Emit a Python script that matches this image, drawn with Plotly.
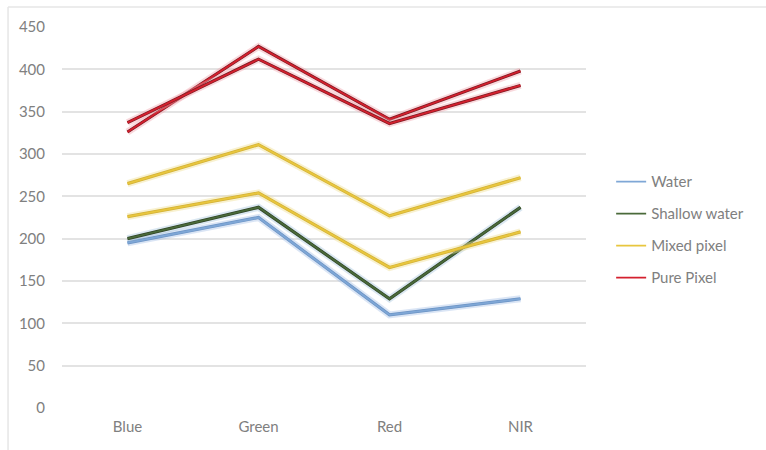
import plotly.graph_objects as go

bands = ["Blue", "Green", "Red", "NIR"]
water = [195, 225, 110, 129]
shallow_water = [200, 237, 129, 237]
mixed_pixel_a = [265, 311, 227, 272]
mixed_pixel_b = [226, 254, 166, 208]
pure_pixel_a = [326, 427, 341, 398]
pure_pixel_b = [337, 412, 336, 381]
y_ticks = [0, 50, 100, 150, 200, 250, 300, 350, 400, 450]

series = [
    ("Water", water, "#7FA7D6", "#6B93C4", "rgba(150,180,225,0.35)", True),
    ("Shallow water", shallow_water, "#4A6A3A", "#2F4326", "rgba(150,185,215,0.35)", True),
    ("Mixed pixel", mixed_pixel_a, "#E8C63E", "#D2B035", "rgba(240,225,150,0.45)", True),
    ("Mixed pixel", mixed_pixel_b, "#E8C63E", "#D2B035", "rgba(240,225,150,0.45)", False),
    ("Pure Pixel", pure_pixel_a, "#D4202E", "#7A1A22", "rgba(240,160,170,0.4)", True),
    ("Pure Pixel", pure_pixel_b, "#D4202E", "#7A1A22", "rgba(240,160,170,0.4)", False),
]

fig = go.Figure()
order = {"Water": 0, "Shallow water": 1, "Mixed pixel": 2, "Pure Pixel": 3}
for name, vals, color, edge, glow, show in series:
    # soft glow
    fig.add_trace(go.Scatter(x=bands, y=vals, mode="lines", line=dict(color=glow, width=7),
                             showlegend=False, hoverinfo="skip", legendgroup=name))
    # dark edge
    fig.add_trace(go.Scatter(x=bands, y=vals, mode="lines", line=dict(color=edge, width=3.2),
                             showlegend=False, hoverinfo="skip", legendgroup=name))
    # main line
    fig.add_trace(go.Scatter(x=bands, y=vals, mode="lines", name=name,
                             line=dict(color=color, width=1.8),
                             showlegend=show, legendgroup=name,
                             legendrank=order[name] + 1))

fig.update_layout(
    width=766, height=450,
    margin=dict(l=62, r=180, t=27, b=42),
    plot_bgcolor="white", paper_bgcolor="white",
    font=dict(family="Lato, Open Sans, sans-serif", size=15, color="#808080"),
    showlegend=True,
    legend=dict(x=1.048, y=0.637, xanchor="left", yanchor="top",
                traceorder="grouped", tracegroupgap=9.5,
                font=dict(size=15, color="#808080"), itemwidth=30,
                bgcolor="rgba(0,0,0,0)"),
    xaxis=dict(type="category", showgrid=False, zeroline=False, showline=False,
               ticks="", ticklabelstandoff=8, range=[-0.5, 3.5]),
    yaxis=dict(range=[0, 450], tickvals=y_ticks, showgrid=True, gridcolor="#E3E3E3",
               gridwidth=1.5, zeroline=False, showline=False, ticks="",
               ticklabelstandoff=16),
    shapes=[
        dict(type="line", xref="paper", yref="paper", x0=-0.103, x1=1.4, y0=1.0525, y1=1.0525,
             line=dict(color="#E6E6E6", width=1.5)),
        dict(type="line", xref="paper", yref="paper", x0=-0.103, x1=-0.103, y0=-0.12, y1=1.0525,
             line=dict(color="#E6E6E6", width=1.5)),
    ],
)

fig.write_html("out.html")
